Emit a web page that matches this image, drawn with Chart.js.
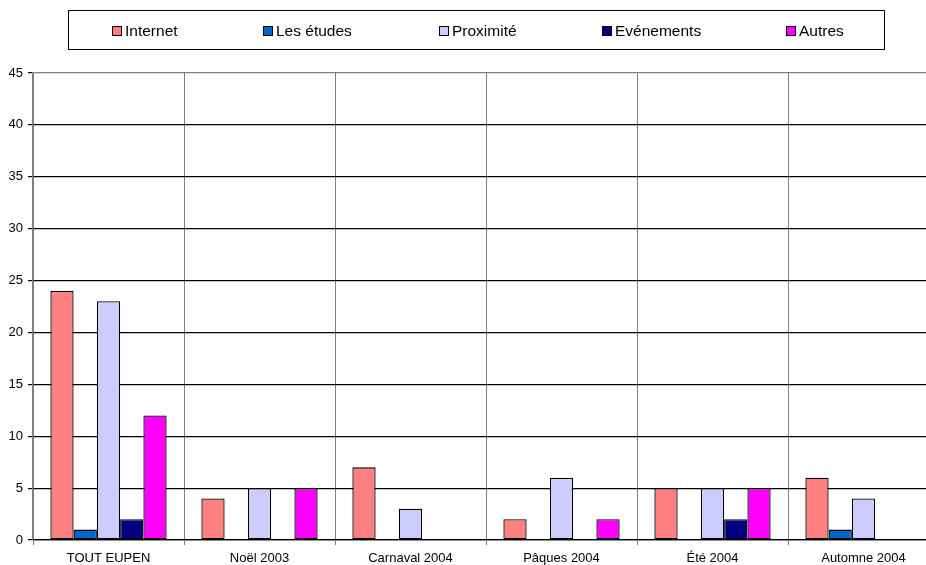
<!DOCTYPE html>
<html>
<head>
<meta charset="utf-8">
<script src="https://cdn.jsdelivr.net/npm/chart.js@4/dist/chart.umd.min.js"></script>
<style>
html,body{margin:0;padding:0;background:#fff;overflow:hidden;width:926px;height:565px;}
#wrap{position:absolute;left:0;top:0;width:950px;height:565px;}
#legend{position:absolute;left:68px;top:10px;width:817px;height:40px;border:1px solid #000;box-sizing:border-box;font-family:"Liberation Sans",Arial,sans-serif;font-size:15.5px;color:#000;}
.li{position:absolute;top:12px;display:flex;align-items:center;white-space:nowrap;line-height:16px;}
.sw{width:8px;height:8px;border:1px solid #000;margin-right:3px;}
</style>
</head>
<body>
<div id="wrap"><canvas id="c" width="950" height="565"></canvas></div>
<div id="legend"></div>
<script>
const categories = ["TOUT EUPEN", "Noël 2003", "Carnaval 2004", "Pâques 2004", "Été 2004", "Automne 2004"];
const seriesNames = ["Internet", "Les études", "Proximité", "Evénements", "Autres"];
const internet   = [24, 4, 7, 2, 5, 6];
const etudes     = [1, 0, 0, 0, 0, 1];
const proximite  = [23, 5, 3, 6, 5, 4];
const evenements = [2, 0, 0, 0, 2, 0];
const autres     = [12, 5, 0, 2, 5, 0];
const yTicks = [0, 5, 10, 15, 20, 25, 30, 35, 40, 45];
const colors = ["#FF8080", "#0066CC", "#CCCCFF", "#000080", "#FF00FF"];
const legendX = [43, 194, 370, 533, 717];

const values = [internet, etudes, proximite, evenements, autres];
const datasets = seriesNames.map((n, i) => ({
  label: n, data: values[i], backgroundColor: colors[i],
  borderColor: "#000", borderWidth: 1.3, borderSkipped: false,
  categoryPercentage: 0.77, barPercentage: 1.0
}));

const lg = document.getElementById("legend");
seriesNames.forEach((n, i) => {
  const d = document.createElement("div");
  d.className = "li"; d.style.left = legendX[i] + "px";
  d.innerHTML = '<span class="sw" style="background:' + colors[i] + '"></span><span></span>';
  d.lastChild.textContent = n;
  lg.appendChild(d);
});

const font = {family: "'Liberation Sans', Arial, sans-serif", size: 13};
new Chart(document.getElementById("c"), {
  type: "bar",
  data: {labels: categories, datasets},
  options: {
    responsive: false, animation: false,
    layout: {padding: {top: 73, right: 11, left: 0, bottom: 0}},
    plugins: {legend: {display: false}, tooltip: {enabled: false}},
    scales: {
      x: {
        offset: true,
        grid: {offset: true, color: "#808080", lineWidth: 1, tickLength: 5, tickColor: "#808080", drawOnChartArea: true},
        border: {color: "#000", width: 1.3},
        ticks: {color: "#000", font, padding: 6, maxRotation: 0, autoSkip: false},
        afterFit: s => { s.height = 25; }
      },
      y: {
        min: 0, max: 45,
        afterBuildTicks: s => { s.ticks = yTicks.map(v => ({value: v})); },
        grid: {color: c => (c.tick && c.tick.value === 45) ? "#808080" : "#000", lineWidth: 1.2, tickLength: 5, tickColor: "#000"},
        border: {color: "#808080", width: 1.3},
        ticks: {color: "#000", font, padding: 5},
        afterFit: s => { s.width = 33; }
      }
    }
  }
});
</script>
</body>
</html>
